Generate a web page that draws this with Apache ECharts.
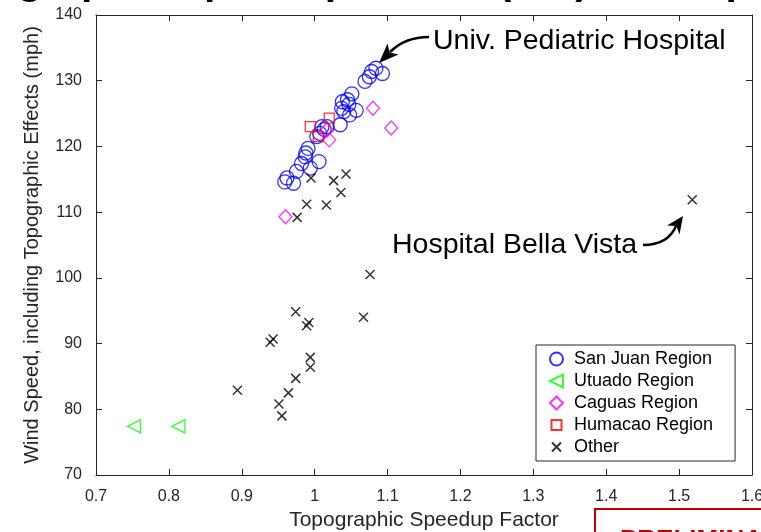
<!DOCTYPE html>
<html><head><meta charset="utf-8">
<script src="https://cdn.jsdelivr.net/npm/echarts@6.0.0/dist/echarts.min.js"></script>
<style>html,body{margin:0;padding:0;background:#fff}#c{width:761px;height:532px}</style>
</head><body><div id="c"></div>
<script>
// ---- data ----
const sanJuanX = [1.084,1.093,1.078,1.075,1.069,1.051,1.045,1.038,1.047,1.057,1.037,1.048,1.040,1.035,1.010,1.007,1.003,0.991,0.988,0.987,1.006,0.982,0.975,0.994,0.962,0.959,0.971,1.013,1.017];
const sanJuanY = [131.9,131.1,131.4,130.6,129.9,128.0,127.1,126.8,126.4,125.5,125.8,124.8,125.3,123.3,123.0,122.0,121.5,119.7,119.0,118.4,117.7,117.4,116.2,116.7,115.2,114.6,114.4,122.6,123.0];
const utuadoX = [0.752,0.813];
const utuadoY = [77.4,77.4];
const caguasX = [1.080,1.105,1.017,1.020,0.960];
const caguasY = [125.8,122.8,122.5,121.0,109.3];
const humacaoX = [0.994,1.020,1.005];
const humacaoY = [123.0,124.3,121.5];
const otherX = [0.995,1.026,1.043,1.036,0.989,1.016,0.976,1.076,1.518,0.974,0.992,0.989,1.067,0.943,0.939,0.994,0.994,0.974,0.964,0.894,0.951,0.955];
const otherY = [115.2,114.8,115.8,113.0,111.2,111.1,109.2,100.5,111.9,94.85,93.2,92.7,94.0,90.7,90.2,87.9,86.4,84.7,82.5,82.9,80.8,79.0];
const seriesNames = ['San Juan Region','Utuado Region','Caguas Region','Humacao Region','Other'];
const xTitle = 'Topographic Speedup Factor';
const yTitle = 'Wind Speed, including Topographic Effects (mph)';
const chartTitle = 'Topographic Speedup Factor (Kzt) at Hospitals';
const note1 = 'Univ. Pediatric Hospital';
const note2 = 'Hospital Bella Vista';
const stamp = 'PRELIMINARY';

const zip = (xs, ys) => xs.map((x, i) => [x, ys[i]]);
const FONT = '"Liberation Sans", Arial, Helvetica, sans-serif';
const AX = '#262626';

const baseAxis = {
  type: 'value',
  splitLine: { show: false },
  axisLine: { show: true, onZero: false, lineStyle: { color: AX, width: 1 } },
  axisTick: { show: true, inside: true, length: 6, lineStyle: { color: AX } },
  axisLabel: { color: AX, fontSize: 16, fontFamily: FONT, margin: 14 }
};
const hiddenLabels = { show: false };

const chart = echarts.init(document.getElementById('c'), null, { renderer: 'canvas' });
chart.setOption({
  animation: false,
  backgroundColor: '#fff',
  grid: { left: 96, top: 15, right: 9, bottom: 57, containLabel: false, outerBoundsMode: 'none' },
  xAxis: [
    Object.assign({}, baseAxis, { position: 'bottom', min: 0.7, max: 1.6, interval: 0.1,
      name: xTitle, nameLocation: 'middle', nameGap: 35,
      nameTextStyle: { color: AX, fontSize: 21, fontFamily: FONT } }),
    Object.assign({}, baseAxis, { position: 'top', min: 0.7, max: 1.6, interval: 0.1, axisLabel: hiddenLabels })
  ],
  yAxis: [
    Object.assign({}, baseAxis, { position: 'left', min: 70, max: 140, interval: 10,
      name: yTitle, nameLocation: 'middle', nameGap: 54, nameRotate: 90,
      nameTextStyle: { color: AX, fontSize: 20, fontFamily: FONT } }),
    Object.assign({}, baseAxis, { position: 'right', min: 70, max: 140, interval: 10, axisLabel: hiddenLabels })
  ],
  legend: {
    orient: 'vertical', left: 536, top: 345,
    data: seriesNames,
    itemWidth: 13, itemHeight: 13, itemGap: 4,
    padding: [5, 22, 5, 13],
    backgroundColor: '#fff', borderColor: AX, borderWidth: 1, borderRadius: 0,
    textStyle: { color: '#000', fontSize: 18, fontFamily: FONT, lineHeight: 18, padding: [0, 0, 0, 6] }
  },
  series: [
    { name: seriesNames[0], type: 'scatter', data: zip(sanJuanX, sanJuanY),
      symbol: 'circle', symbolSize: 14,
      itemStyle: { color: 'rgba(0,0,0,0)', borderColor: '#0000ff', borderWidth: 1.3 } },
    { name: seriesNames[1], type: 'scatter', data: zip(utuadoX, utuadoY),
      symbol: 'path://M0,6.5L13,0L13,13Z', symbolSize: 13,
      itemStyle: { color: 'rgba(0,0,0,0)', borderColor: '#00ff00', borderWidth: 1.3 } },
    { name: seriesNames[2], type: 'scatter', data: zip(caguasX, caguasY),
      symbol: 'diamond', symbolSize: [13, 14],
      itemStyle: { color: 'rgba(0,0,0,0)', borderColor: '#ff00ff', borderWidth: 1.3 } },
    { name: seriesNames[3], type: 'scatter', data: zip(humacaoX, humacaoY),
      symbol: 'path://M0,0M13,13M1.5,1.5L11.5,1.5L11.5,11.5L1.5,11.5Z', symbolSize: 13,
      itemStyle: { color: 'rgba(0,0,0,0)', borderColor: '#ff0000', borderWidth: 1.3 } },
    { name: seriesNames[4], type: 'scatter', data: zip(otherX, otherY),
      symbol: 'path://M0,0M13,13M2,2L11,11M11,2L2,11', symbolSize: 13,
      itemStyle: { color: 'rgba(0,0,0,0)', borderColor: '#000', borderWidth: 1.5 } }
  ],
  graphic: [
    { type: 'text', x: -80, y: -17, silent: true,
      style: { text: chartTitle, font: 'bold 41px ' + FONT, fill: '#000', verticalAlign: 'middle', textVerticalAlign: 'middle' } },
    { type: 'text', x: 433, y: 41, silent: true,
      style: { text: note1, font: '28.5px ' + FONT, fill: '#000', verticalAlign: 'middle', textVerticalAlign: 'middle' } },
    { type: 'text', x: 392, y: 245, silent: true,
      style: { text: note2, font: '28.5px ' + FONT, fill: '#000', verticalAlign: 'middle', textVerticalAlign: 'middle' } },
    { type: 'bezierCurve', silent: true,
      shape: { x1: 429, y1: 37, cpx1: 405, cpy1: 37, x2: 390, y2: 52 },
      style: { stroke: '#000', lineWidth: 2.5, fill: null } },
    { type: 'polygon', silent: true,
      shape: { points: [[379, 63], [387.5, 43.5], [389.5, 52.5], [398.5, 54.5]] },
      style: { fill: '#000' } },
    { type: 'bezierCurve', silent: true,
      shape: { x1: 643, y1: 245, cpx1: 668, cpy1: 245, x2: 676, y2: 226 },
      style: { stroke: '#000', lineWidth: 2.5, fill: null } },
    { type: 'polygon', silent: true,
      shape: { points: [[683, 216], [679.5, 234.5], [676.4, 226], [667, 225.5]] },
      style: { fill: '#000' } },
    { type: 'rect', silent: true,
      shape: { x: 595, y: 509, width: 200, height: 50 },
      style: { fill: '#fff', stroke: '#c00000', lineWidth: 2 } },
    { type: 'text', x: 620, y: 541, silent: true,
      style: { text: stamp, font: 'bold 26px ' + FONT, fill: '#c00000', verticalAlign: 'middle', textVerticalAlign: 'middle' } }
  ]
});
</script>
</body></html>
